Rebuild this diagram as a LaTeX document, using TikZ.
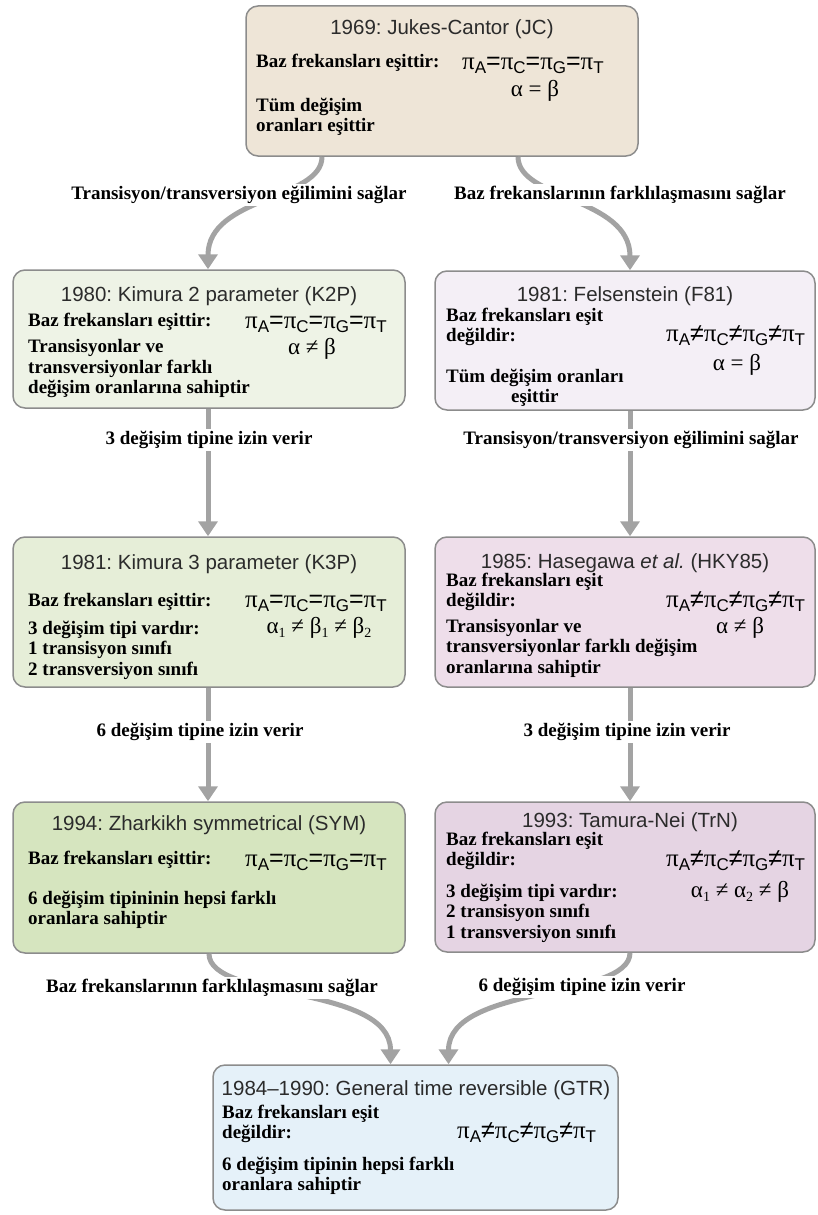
\documentclass[tikz,border=0pt]{standalone}
\usepackage{fontspec}
\setmainfont{Liberation Serif}
\setsansfont{Liberation Sans}
\usetikzlibrary{arrows.meta}
\frenchspacing

\definecolor{boxline}{HTML}{8C8C8C}
\definecolor{arrowgray}{HTML}{A3A3A3}
\definecolor{titlegray}{HTML}{2B2B2B}
\definecolor{jcfill}{HTML}{EEE5D7}
\definecolor{ktwofill}{HTML}{EEF3E6}
\definecolor{kthreefill}{HTML}{E6EED8}
\definecolor{symfill}{HTML}{D6E5BF}
\definecolor{felfill}{HTML}{F4EFF6}
\definecolor{hkyfill}{HTML}{EEDEEA}
\definecolor{trnfill}{HTML}{E5D4E3}
\definecolor{gtrfill}{HTML}{E5F1F9}

% pi with a sans subscript, and small index
\newcommand{\pisub}[1]{π\raisebox{-0.35ex}{\sffamily\fontsize{17}{17}\selectfont #1}}
\newcommand{\lowidx}[1]{\raisebox{-0.35ex}{\fontsize{14}{14}\selectfont #1}}
\newcommand{\seq}{{\sffamily =}}
\newcommand{\sne}{{\sffamily ≠}}

\tikzset{
  modelbox/.style={draw=boxline, line width=1.5pt, rounded corners=12pt, inner sep=0pt},
  boxtitle/.style={font=\sffamily\fontsize{20.5}{24}\selectfont, text=titlegray, inner sep=0pt},
  boxtext/.style={font=\bfseries\fontsize{19}{20.5}\selectfont, align=left, anchor=west, inner sep=0pt},
  formula/.style={font=\fontsize{23}{26}\selectfont, inner sep=0pt},
  piformula/.style={font=\fontsize{25}{28}\selectfont, anchor=west, inner sep=0pt},
  linklabel/.style={font=\bfseries\fontsize{19}{22}\selectfont, fill=white, inner sep=2pt},
  linkarrow/.style={draw=arrowgray, line width=5pt, -{Triangle[length=15pt,width=19pt]}},
}

\begin{document}
\begin{tikzpicture}[x=1pt, y=-1pt]
  \useasboundingbox (0,0) rectangle (817,1215);

  % Boxes
  \node[modelbox, fill=jcfill, minimum width=392pt, minimum height=150pt] (jc) at (442,81) {};
  \node[modelbox, fill=ktwofill, minimum width=392pt, minimum height=138pt] (ktwo) at (209,339) {};
  \node[modelbox, fill=felfill, minimum width=380pt, minimum height=139pt] (fel) at (625,340.5) {};
  \node[modelbox, fill=kthreefill, minimum width=392pt, minimum height=150pt] (kthree) at (209,612) {};
  \node[modelbox, fill=hkyfill, minimum width=380pt, minimum height=150pt] (hky) at (625,612) {};
  \node[modelbox, fill=symfill, minimum width=392pt, minimum height=151pt] (sym) at (209,877.5) {};
  \node[modelbox, fill=trnfill, minimum width=380pt, minimum height=150pt] (trn) at (625,877) {};
  \node[modelbox, fill=gtrfill, minimum width=405pt, minimum height=145pt] (gtr) at (415.5,1137.5) {};

  % Jukes-Cantor
  \node[boxtitle] (jc-title) at (442,29) {1969: Jukes-Cantor (JC)};
  \node[boxtext] (jc-base) at (256,63) {Baz frekansları eşittir:};
  \node[piformula] (jc-pi) at (462,65) {\pisub{A}\seq\pisub{C}\seq\pisub{G}\seq\pisub{T}};
  \node[formula] (jc-ab) at (535,91) {α = β};
  \node[boxtext] (jc-rate) at (256,117) {Tüm değişim\\oranları eşittir};

  % Kimura 2 parameter
  \node[boxtitle] (ktwo-title) at (209,296) {1980: Kimura 2 parameter (K2P)};
  \node[boxtext] (ktwo-base) at (28,322) {Baz frekansları eşittir:};
  \node[piformula] (ktwo-pi) at (245,324) {\pisub{A}\seq\pisub{C}\seq\pisub{G}\seq\pisub{T}};
  \node[formula] (ktwo-ab) at (312,349) {α ≠ β};
  \node[boxtext] (ktwo-rate) at (28,369) {Transisyonlar ve\\transversiyonlar farklı\\değişim oranlarına sahiptir};

  % Felsenstein
  \node[boxtitle] (fel-title) at (625,296) {1981: Felsenstein (F81)};
  \node[boxtext] (fel-base) at (446,327) {Baz frekansları eşit\\değildir:};
  \node[piformula] (fel-pi) at (666,336) {\pisub{A}\sne\pisub{C}\sne\pisub{G}\sne\pisub{T}};
  \node[formula] (fel-ab) at (737,365) {α = β};
  \node[boxtext, align=center] (fel-rate) at (446,388) {Tüm değişim oranları\\eşittir};

  % Kimura 3 parameter
  \node[boxtitle] (kthree-title) at (209,564) {1981: Kimura 3 parameter (K3P)};
  \node[boxtext] (kthree-base) at (28,602) {Baz frekansları eşittir:};
  \node[piformula] (kthree-pi) at (245,603) {\pisub{A}\seq\pisub{C}\seq\pisub{G}\seq\pisub{T}};
  \node[formula] (kthree-ab) at (319,628) {α\lowidx{1} ≠ β\lowidx{1} ≠ β\lowidx{2}};
  \node[boxtext] (kthree-rate) at (28,650) {3 değişim tipi vardır:\\1 transisyon sınıfı\\2 transversiyon sınıfı};

  % Hasegawa et al.
  \node[boxtitle] (hky-title) at (625,563) {1985: Hasegawa \textit{et al.} (HKY85)};
  \node[boxtext] (hky-base) at (446,592) {Baz frekansları eşit\\değildir:};
  \node[piformula] (hky-pi) at (666,602) {\pisub{A}\sne\pisub{C}\sne\pisub{G}\sne\pisub{T}};
  \node[formula] (hky-ab) at (740,628) {α ≠ β};
  \node[boxtext] (hky-rate) at (446,648) {Transisyonlar ve\\transversiyonlar farklı değişim\\oranlarına sahiptir};

  % Zharkikh symmetrical
  \node[boxtitle] (sym-title) at (209,825) {1994: Zharkikh symmetrical (SYM)};
  \node[boxtext] (sym-base) at (28,860) {Baz frekansları eşittir:};
  \node[piformula] (sym-pi) at (245,862) {\pisub{A}\seq\pisub{C}\seq\pisub{G}\seq\pisub{T}};
  \node[boxtext] (sym-rate) at (28,910) {6 değişim tipininin hepsi farklı\\oranlara sahiptir};

  % Tamura-Nei
  \node[boxtitle] (trn-title) at (630,822) {1993: Tamura-Nei (TrN)};
  \node[boxtext] (trn-base) at (446,851) {Baz frekansları eşit\\değildir:};
  \node[piformula] (trn-pi) at (666,861) {\pisub{A}\sne\pisub{C}\sne\pisub{G}\sne\pisub{T}};
  \node[formula] (trn-ab) at (740,892) {α\lowidx{1} ≠ α\lowidx{2} ≠ β};
  \node[boxtext] (trn-rate) at (446,913) {3 değişim tipi vardır:\\2 transisyon sınıfı\\1 transversiyon sınıfı};

  % General time reversible
  \node[boxtitle] (gtr-title) at (416,1090) {1984–1990: General time reversible (GTR)};
  \node[boxtext] (gtr-base) at (222,1124) {Baz frekansları eşit\\değildir:};
  \node[piformula] (gtr-pi) at (457,1133) {\pisub{A}\sne\pisub{C}\sne\pisub{G}\sne\pisub{T}};
  \node[boxtext] (gtr-rate) at (222,1176) {6 değişim tipinin hepsi farklı\\oranlara sahiptir};

  % Arrows
  \draw[linkarrow] ([xshift=-120pt]jc.south) .. controls +(0,43) and +(0,-73) .. ([xshift=-1pt]ktwo.north);
  \draw[linkarrow] ([xshift=76pt]jc.south) .. controls +(0,43) and +(0,-73) .. ([xshift=5pt]fel.north);
  \draw[linkarrow] ([xshift=-1pt]ktwo.south) -- ([xshift=-1pt]kthree.north);
  \draw[linkarrow] ([xshift=5pt]fel.south) -- ([xshift=5pt]hky.north);
  \draw[linkarrow] ([xshift=-1pt]kthree.south) -- ([xshift=-1pt]sym.north);
  \draw[linkarrow] ([xshift=5pt]hky.south) -- ([xshift=5pt]trn.north);
  \draw[linkarrow] (sym.south) .. controls +(0,47) and +(0,-80) .. ([xshift=-25pt]gtr.north);
  \draw[linkarrow] ([xshift=5pt]trn.south) .. controls +(0,47) and +(0,-80) .. ([xshift=33pt]gtr.north);

  % Labels
  \node[linklabel] (lab-ts1) at (239,195) {Transisyon/transversiyon eğilimini sağlar};
  \node[linklabel] (lab-bf1) at (620,195) {Baz frekanslarının farklılaşmasını sağlar};
  \node[linklabel] (lab-three1) at (209,440) {3 değişim tipine izin verir};
  \node[linklabel] (lab-ts2) at (631,440) {Transisyon/transversiyon eğilimini sağlar};
  \node[linklabel] (lab-six1) at (200,732) {6 değişim tipine izin verir};
  \node[linklabel] (lab-three2) at (627,732) {3 değişim tipine izin verir};
  \node[linklabel] (lab-bf2) at (212,988) {Baz frekanslarının farklılaşmasını sağlar};
  \node[linklabel] (lab-six2) at (582,987) {6 değişim tipine izin verir};
\end{tikzpicture}
\end{document}
